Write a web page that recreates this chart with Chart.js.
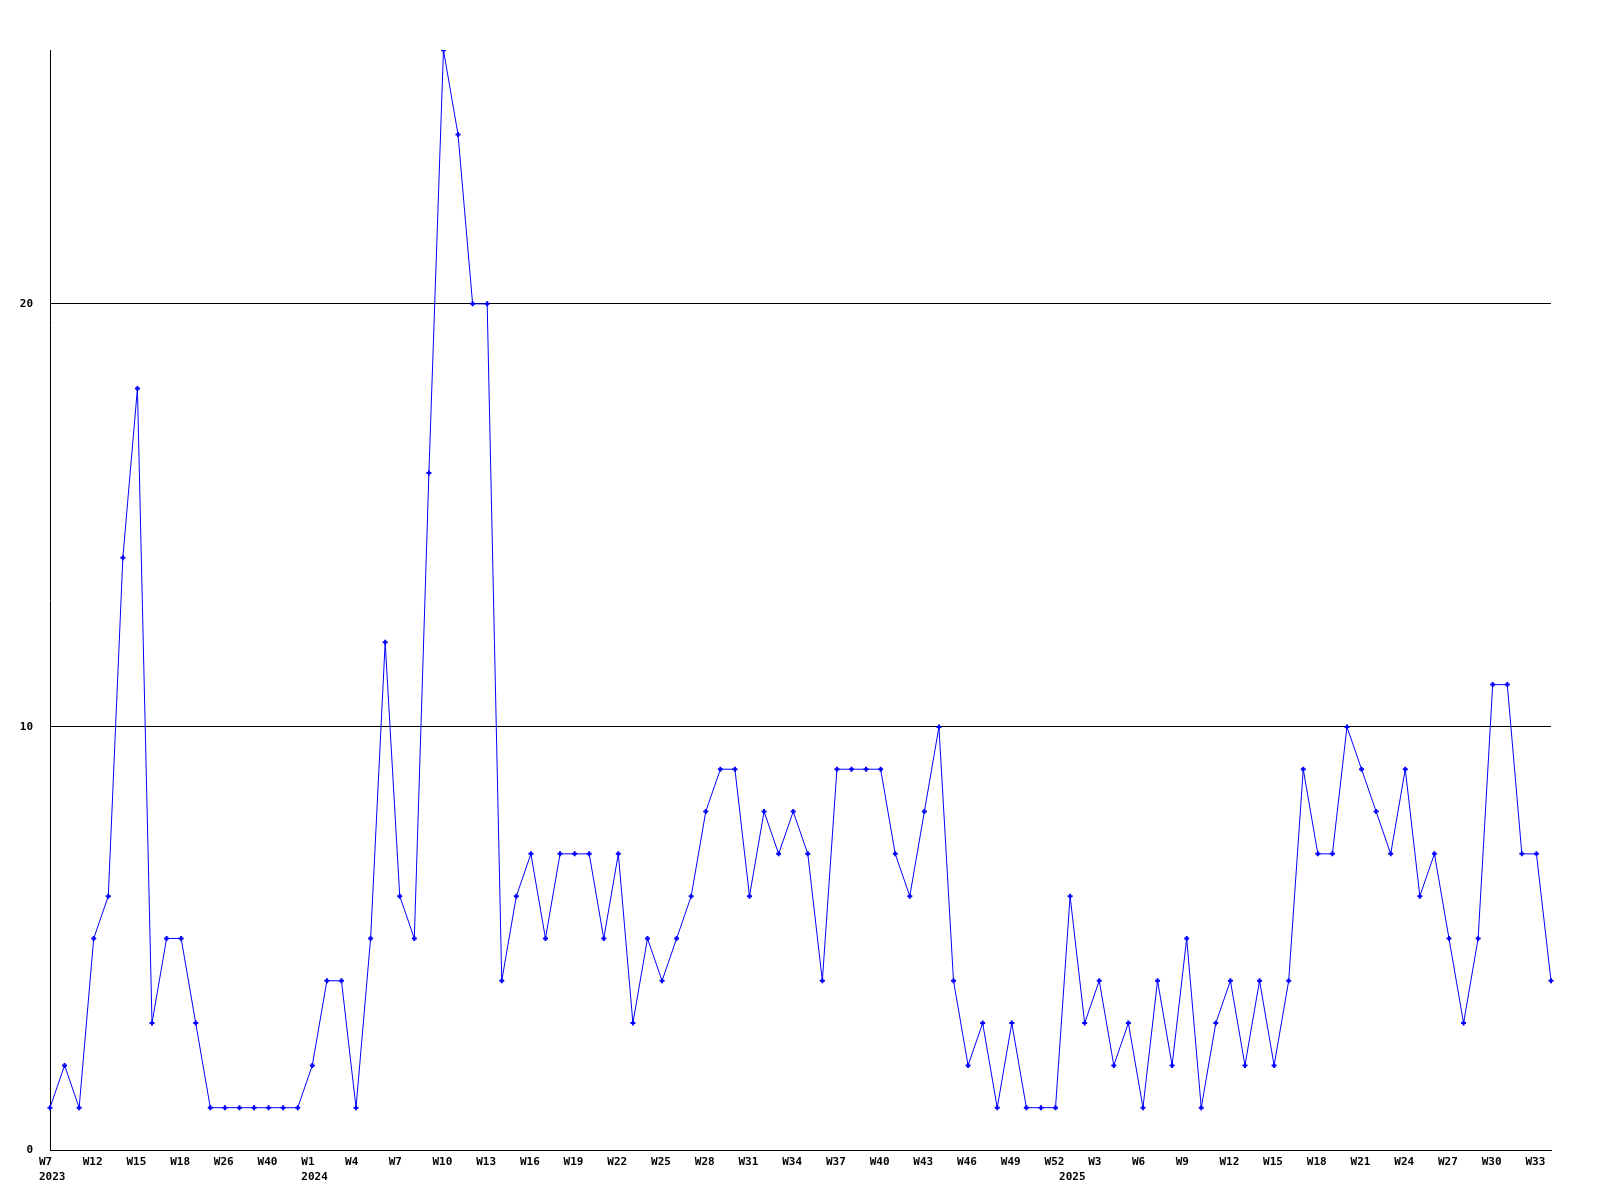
<!DOCTYPE html>
<html>
<head>
<meta charset="utf-8">
<script src="https://cdn.jsdelivr.net/npm/chart.js@4.4.1/dist/chart.umd.min.js"></script>
<style>
  body { margin: 0; background: #fff; }
</style>
</head>
<body>
<canvas id="chart" width="1600" height="1200"></canvas>
<script>
// week numbers per year (one point per listed week)
const weeks2023 = [7, 8, 10, 12, 13, 14, 15, 16, 17, 18, 19, 22, 26, 30, 35, 40, 44, 48];
const weeks2024 = [1, 2, 3, 4, 5, 6, 7, 8, 9, 10, 11, 12, 13, 14, 15, 16, 17, 18, 19, 20, 21, 22, 23, 24, 25, 26,
  27, 28, 29, 30, 31, 32, 33, 34, 35, 36, 37, 38, 39, 40, 41, 42, 43, 44, 45, 46, 47, 48, 49, 50, 51, 52];
const weeks2025 = [1, 2, 3, 4, 5, 6, 7, 8, 9, 10, 11, 12, 13, 14, 15, 16, 17, 18, 19, 20, 21, 22, 23, 24, 25, 26,
  27, 28, 29, 30, 31, 32, 33, 34];

const values2023 = [1, 2, 1, 5, 6, 14, 18, 3, 5, 5, 3, 1, 1, 1, 1, 1, 1, 1];
const values2024 = [2, 4, 4, 1, 5, 12, 6, 5, 16, 26, 24, 20, 20, 4, 6, 7, 5, 7, 7, 7, 5, 7, 3, 5, 4, 5,
  6, 8, 9, 9, 6, 8, 7, 8, 7, 4, 9, 9, 9, 9, 7, 6, 8, 10, 4, 2, 3, 1, 3, 1, 1, 1];
const values2025 = [6, 3, 4, 2, 3, 1, 4, 2, 5, 1, 3, 4, 2, 4, 2, 4, 9, 7, 7, 10, 9, 8, 7, 9, 6, 7,
  5, 3, 5, 11, 11, 7, 7, 4];

const yTicks = [0, 10, 20];
const yMax = 26;

// one category per point, remember where each year starts
const labels = [];
const yearStart = new Map();
[[2023, weeks2023], [2024, weeks2024], [2025, weeks2025]].forEach(([year, wk]) => {
  yearStart.set(labels.length, String(year));
  wk.forEach(w => labels.push('W' + w));
});
const values = values2023.concat(values2024, values2025);

const labelEvery = 3;
const font = { family: 'DejaVu Sans Mono', size: 11, weight: 'bold', lineHeight: '15px' };

new Chart(document.getElementById('chart').getContext('2d'), {
  type: 'line',
  data: {
    labels,
    datasets: [{
      data: values,
      borderColor: '#0000ff',
      backgroundColor: '#0000ff',
      borderWidth: 1,
      tension: 0,
      pointStyle: 'cross',
      pointRadius: 2.5,
      pointBorderWidth: 2,
      pointBorderColor: '#0000ff'
    }]
  },
  options: {
    responsive: false,
    animation: false,
    layout: { padding: { top: 50, right: 49, left: 0, bottom: 0 } },
    plugins: { legend: { display: false }, tooltip: { enabled: false } },
    scales: {
      x: {
        offset: false,
        grid: { display: false, drawTicks: false },
        border: { display: true, color: '#000', width: 1 },
        ticks: {
          autoSkip: false,
          maxRotation: 0,
          minRotation: 0,
          align: 'start',
          labelOffset: -11,
          padding: 5,
          color: '#000',
          font,
          callback: (v, i) => {
            const wk = i % labelEvery === 0 ? labels[i] : '';
            const yr = yearStart.get(i);
            return yr ? [wk, yr] : wk;
          }
        },
        afterFit: s => { s.height = 50; }
      },
      y: {
        min: 0,
        max: yMax,
        grid: { color: '#000', lineWidth: 1, drawTicks: false },
        border: { display: true, color: '#000', width: 1 },
        ticks: {
          stepSize: 10,
          includeBounds: false,
          padding: 17,
          color: '#000',
          font,
          callback: v => yTicks.includes(v) ? String(v) : ''
        },
        afterFit: s => { s.width = 50; }
      }
    }
  }
});
</script>
</body>
</html>
